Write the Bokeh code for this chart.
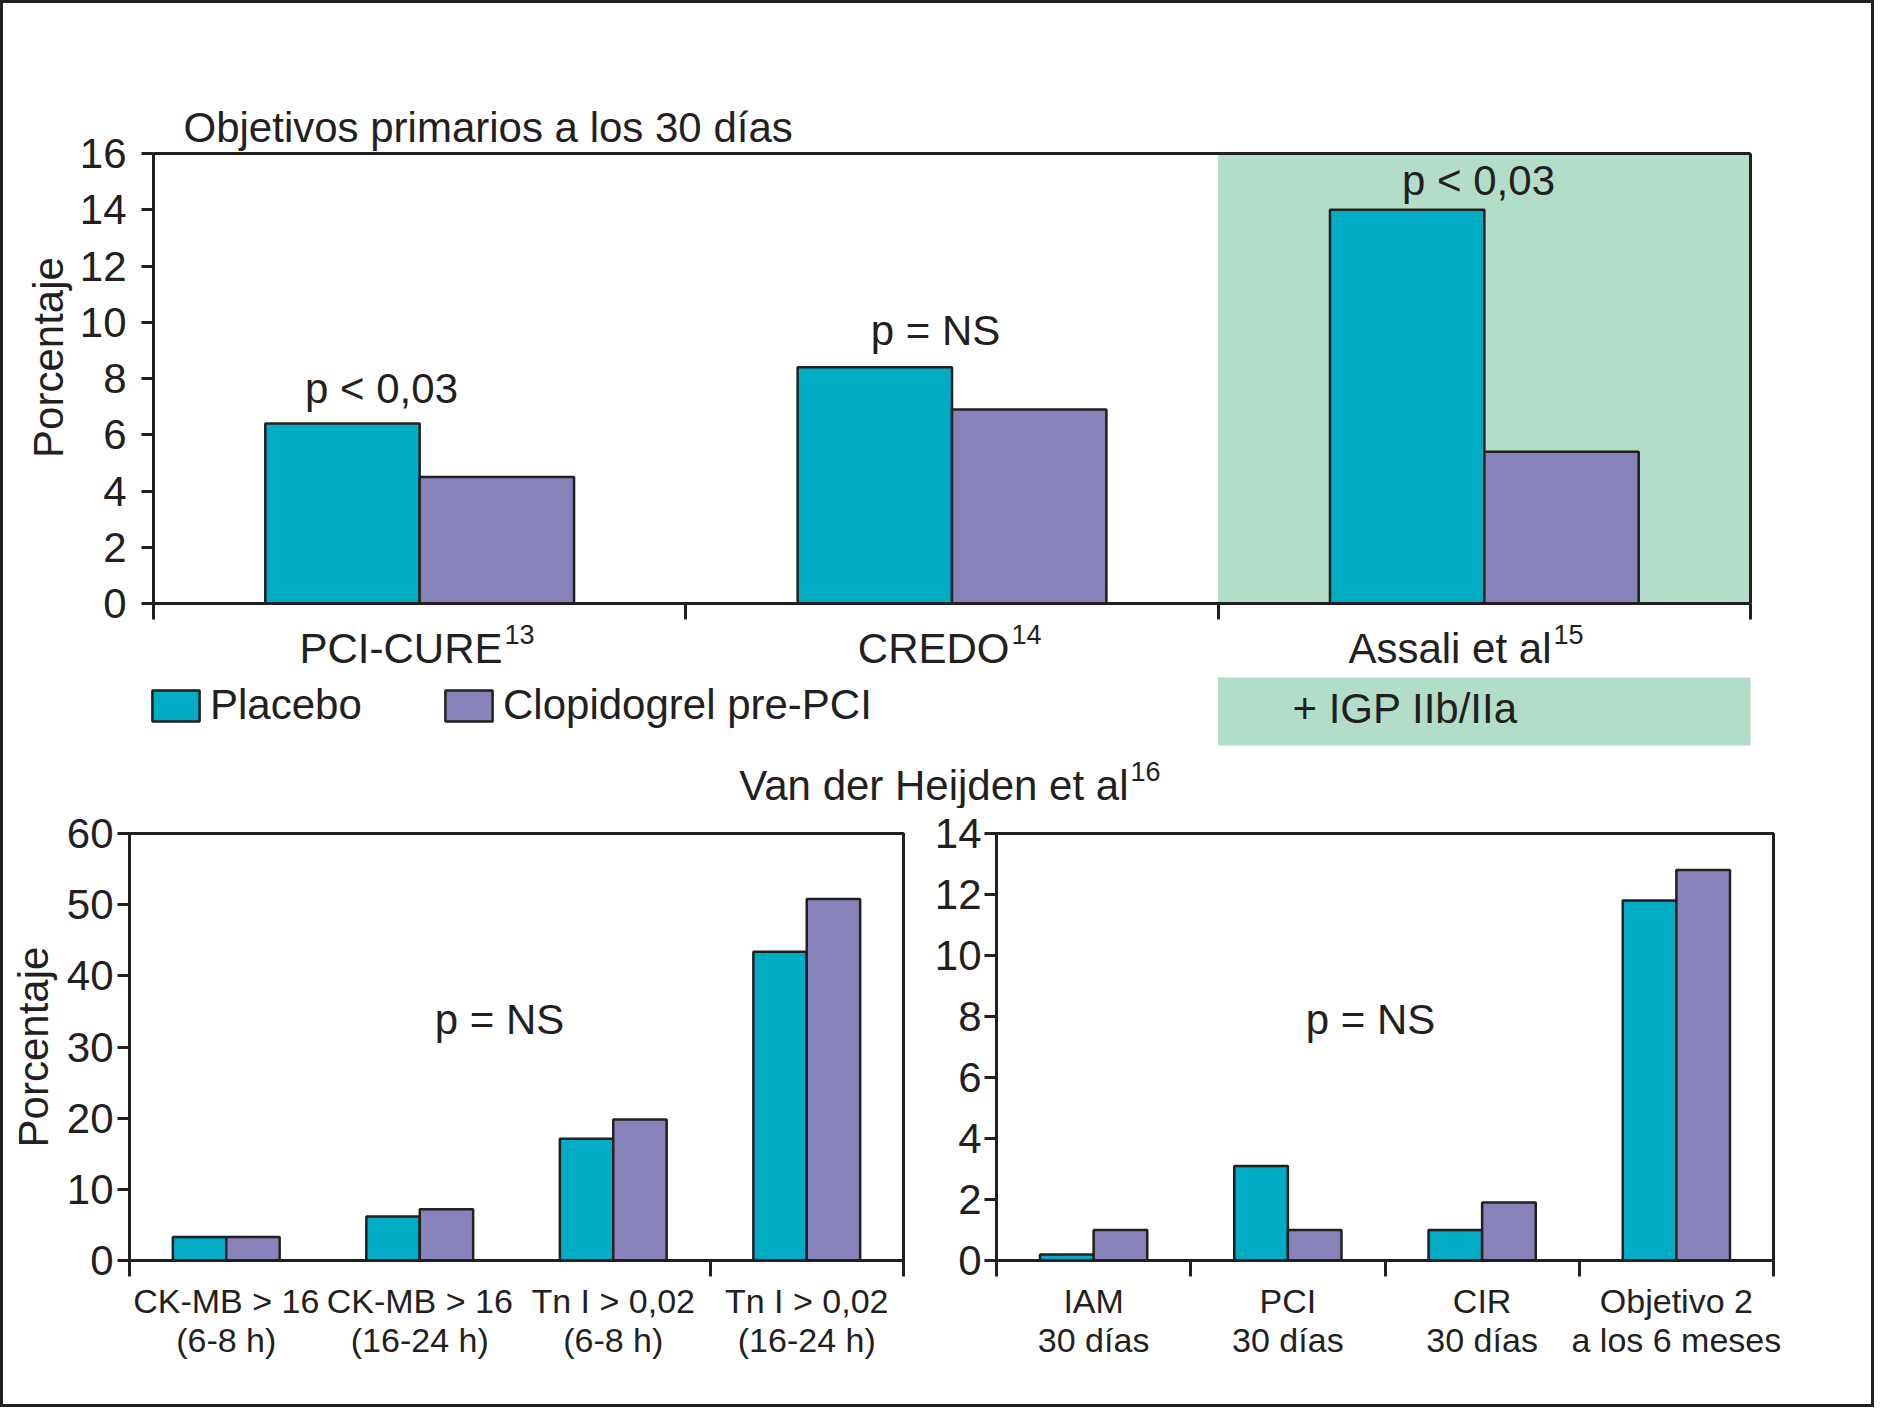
import math
from bokeh.plotting import figure
from bokeh.models import (Range1d, FixedTicker, Label, BoxAnnotation, Legend,
                          LegendItem, CustomJSTickFormatter, LinearAxis)
from bokeh.layouts import column, row
from bokeh.embed import file_html
from bokeh.resources import INLINE

# ---------------- data ----------------
top_categories = ["PCI-CURE", "CREDO", "Assali et al"]
top_refs = ["13", "14", "15"]
top_placebo = [6.4, 8.4, 14.0]
top_clopidogrel = [4.5, 6.9, 5.4]
top_pvalues = ["p < 0,03", "p = NS", "p < 0,03"]
top_yticks = [0, 2, 4, 6, 8, 10, 12, 14, 16]
top_shaded = "Assali et al"
top_shaded_note = "+ IGP IIb/IIa"
top_title = "Objetivos primarios a los 30 días"

bottom_title = "Van der Heijden et al"
bottom_ref = "16"

left_categories = ["CK-MB > 16\n(6-8 h)", "CK-MB > 16\n(16-24 h)",
                   "Tn I > 0,02\n(6-8 h)", "Tn I > 0,02\n(16-24 h)"]
left_placebo = [3.3, 6.2, 17.1, 43.4]
left_clopidogrel = [3.3, 7.2, 19.8, 50.8]
left_yticks = [0, 10, 20, 30, 40, 50, 60]
left_group_ticks = [0, 3, 4]
left_pvalue = "p = NS"

right_categories = ["IAM\n30 días", "PCI\n30 días", "CIR\n30 días",
                    "Objetivo 2\na los 6 meses"]
right_placebo = [0.2, 3.1, 1.0, 11.8]
right_clopidogrel = [1.0, 1.0, 1.9, 12.8]
right_yticks = [0, 2, 4, 6, 8, 10, 12, 14]
right_group_ticks = [0, 1, 2, 3, 4]
right_pvalue = "p = NS"

series_names = ["Placebo", "Clopidogrel pre-PCI"]
y_label = "Porcentaje"

# ---------------- style ----------------
TEAL = "#00abc4"
PURPLE = "#8882bb"
GREEN = "#b2ddc9"
INK = "#231f20"
FONT = "Liberation Sans"
FS_PX = 42
FS = f"{FS_PX}px"
FS_TICK_X = "34px"
SUP_PX = 27
BASE_FIX = 0.3   # baseline correction (fraction of font size)

O = 3  # content origin inside the outer border


def style_axis(ax, ticks, minor, tick_out, minor_out, standoff, size):
    ax.ticker = FixedTicker(ticks=ticks, minor_ticks=minor)
    ax.axis_line_color = INK
    ax.axis_line_width = 3
    ax.major_tick_line_color = INK
    ax.major_tick_line_width = 3
    ax.major_tick_out = tick_out
    ax.major_tick_in = 0
    ax.minor_tick_line_color = INK
    ax.minor_tick_line_width = 3
    ax.minor_tick_out = minor_out
    ax.minor_tick_in = 0
    ax.major_label_standoff = standoff
    ax.major_label_text_font = FONT
    ax.major_label_text_font_size = size
    ax.major_label_text_color = INK


def set_ylabel(ax, text, standoff):
    ax.axis_label = text
    ax.axis_label_text_font = FONT
    ax.axis_label_text_font_size = FS
    ax.axis_label_text_font_style = "normal"
    ax.axis_label_text_color = INK
    ax.axis_label_standoff = standoff


def add_bars(p, placebo, clop, width):
    n = len(placebo)
    xs_p = [i + 0.5 - width / 2 for i in range(n)]
    xs_c = [i + 0.5 + width / 2 for i in range(n)]
    r1 = p.vbar(x=xs_p, top=placebo, bottom=0, width=width, fill_color=TEAL,
                line_color=INK, line_width=2.5)
    r2 = p.vbar(x=xs_c, top=clop, bottom=0, width=width, fill_color=PURPLE,
                line_color=INK, line_width=2.5)
    return r1, r2


def lab(p, x, y, text, align="center", px=FS_PX):
    p.add_layout(Label(x=x, y=y, text=text, text_align=align,
                       text_baseline="alphabetic", text_font=FONT,
                       text_font_size=f"{px}px", text_color=INK,
                       y_offset=round(BASE_FIX * px)))


def clean(p):
    p.grid.visible = False
    p.background_fill_color = "white"
    p.border_fill_color = "white"


# ---------------- top chart (whole panel is the frame) ----------------
SPLIT_Y = 808
TOP_W, TOP_H = 1868, SPLIT_Y - O
FL, FR, FT, FB = 153, 1750, 153, 603          # plot box in page px
ncat = len(top_categories)
ymax = top_yticks[-1]
ux = (FR - FL) / ncat
uy = (FB - FT) / ymax
tx = lambda X: (X - FL) / ux
ty = lambda Y: (FB - Y) / uy

top = figure(width=TOP_W, height=TOP_H,
             x_range=Range1d(tx(O), tx(O + TOP_W)),
             y_range=Range1d(ty(O + TOP_H), ty(O)),
             output_backend="svg", toolbar_location=None, tools="",
             min_border_left=0, min_border_right=0,
             min_border_top=0, min_border_bottom=0)
clean(top)
top.outline_line_color = None

ay = top.yaxis[0]
ay.fixed_location = 0
ay.bounds = (0, ymax)
style_axis(ay, top_yticks, [], 12, 0, 15, FS)

ax = top.xaxis[0]
ax.fixed_location = 0
ax.bounds = (0, ncat)
style_axis(ax, [], list(range(ncat + 1)), 0, 16, 0, FS)

r_axis = LinearAxis(fixed_location=ncat, bounds=(0, ymax))
style_axis(r_axis, [], [], 0, 0, 0, "0px")
top.add_layout(r_axis, "right")
t_axis = LinearAxis(fixed_location=ymax, bounds=(0, ncat))
style_axis(t_axis, [], [], 0, 0, 0, "0px")
top.add_layout(t_axis, "above")

gi = top_categories.index(top_shaded)
top.quad(left=[gi], right=[gi + 1], bottom=[0], top=[ymax],
         fill_color=GREEN, line_color=None)
r1, r2 = add_bars(top, top_placebo, top_clopidogrel, 0.29)

# y-axis title of the top chart
top.add_layout(Label(x=tx(48), y=ty(357), text=y_label, angle=math.pi / 2,
                     text_align="center", text_baseline="middle",
                     text_font=FONT, text_font_size=FS, text_color=INK))

lab(top, tx(183), ty(140), top_title, align="left")
for X, Y, t in zip([381, 935, 1478], [401, 343, 193], top_pvalues):
    lab(top, tx(X), ty(Y), t)
for X, name, ref in zip([502, 1009, 1551], top_categories, top_refs):
    lab(top, tx(X), ty(661), name, align="right")
    lab(top, tx(X + 2), ty(642), ref, align="left", px=SUP_PX)

top.add_layout(BoxAnnotation(left=gi, right=gi + 1, top=ty(677), bottom=ty(745),
                             fill_color=GREEN, fill_alpha=1.0, line_color=None,
                             line_alpha=0))
lab(top, tx(1292), ty(721), top_shaded_note, align="left")

# legend: the drawn square is inset by 10% of the glyph box
GW, GH = 59, 39
for r, name, gx in zip([r1, r2], series_names, [152, 445]):
    leg = Legend(items=[LegendItem(label=name, renderers=[r])],
                 location=(gx - O - round(0.1 * GW), (O + TOP_H) - 729 + 0),
                 orientation="horizontal",
                 glyph_width=GW, glyph_height=GH, label_standoff=5,
                 padding=0, margin=0, spacing=0, border_line_color=None,
                 background_fill_alpha=0, label_text_font=FONT,
                 label_text_font_size=FS, label_text_color=INK)
    top.add_layout(leg)

lab(top, tx(1128), ty(798), bottom_title, align="right")
lab(top, tx(1130), ty(779), bottom_ref, align="left", px=SUP_PX)

# ---------------- bottom charts ----------------
BOT_TOP = SPLIT_Y
BOT_H = 1401 - TOP_H
BT, BB = 833, 1260
SPLIT = 930


def cat_formatter(labels):
    return CustomJSTickFormatter(args=dict(labels=labels), code="""
        const i = Math.round(tick - 0.5);
        return (i >= 0 && i < labels.length) ? labels[i] : '';
    """)


def bottom_fig(width, x0, fl, fr, yticks, cats, group_ticks, standoff):
    n = len(cats)
    p = figure(width=width, height=BOT_H, x_range=Range1d(0, n),
               y_range=Range1d(0, yticks[-1]), output_backend="svg",
               toolbar_location=None, tools="",
               min_border_left=fl - x0, min_border_right=x0 + width - fr,
               min_border_top=BT - BOT_TOP,
               min_border_bottom=BOT_TOP + BOT_H - BB)
    clean(p)
    p.outline_line_color = INK
    p.outline_line_width = 3
    style_axis(p.yaxis[0], yticks, [], 12, 0, standoff, FS)
    xa = p.xaxis[0]
    style_axis(xa, [i + 0.5 for i in range(n)], group_ticks, 0, 16, 5, FS_TICK_X)
    xa.formatter = cat_formatter(cats)
    xa.major_label_text_line_height = 1.05
    return p


LW = SPLIT - O
LFL, LFR = 129, 903
left = bottom_fig(LW, O, LFL, LFR, left_yticks, left_categories,
                  left_group_ticks, 4)
set_ylabel(left.yaxis[0], y_label, 7)
add_bars(left, left_placebo, left_clopidogrel, 0.276)
lx = lambda X: (X - LFL) / ((LFR - LFL) / len(left_categories))
ly = lambda Y: (BB - Y) / ((BB - BT) / left_yticks[-1])
lab(left, lx(499), ly(1032), left_pvalue)

RW = 1868 - LW
RFL, RFR = 996, 1773
right = bottom_fig(RW, SPLIT, RFL, RFR, right_yticks, right_categories,
                   right_group_ticks, 3)
add_bars(right, right_placebo, right_clopidogrel, 0.276)
rx = lambda X: (X - RFL) / ((RFR - RFL) / len(right_categories))
ry = lambda Y: (BB - Y) / ((BB - BT) / right_yticks[-1])
lab(right, rx(1370), ry(1032), right_pvalue)

layout = column(top, row(left, right),
                styles={"border": f"3px solid {INK}", "background": "white"})

open("out.html", "w").write(file_html(layout, INLINE))
